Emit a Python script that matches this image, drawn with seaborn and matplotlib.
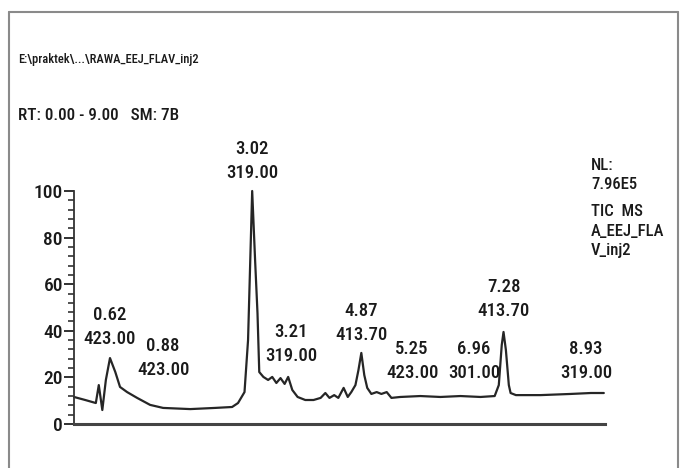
import numpy as np
import pandas as pd
import matplotlib.pyplot as plt
from matplotlib import font_manager
from matplotlib.ticker import MultipleLocator
import seaborn as sns

## chromatogram trace (retention time in min, relative abundance)
rt = [0.00, 0.19, 0.37, 0.42, 0.48, 0.54, 0.61, 0.70, 0.78, 0.90, 1.07, 1.29, 1.51,
      1.97, 2.39, 2.68, 2.78, 2.89, 2.95, 3.02, 3.07, 3.11, 3.14, 3.21, 3.29, 3.36,
      3.43, 3.50, 3.57, 3.63, 3.70, 3.79, 3.92, 4.06, 4.18, 4.26, 4.33, 4.41, 4.48,
      4.57, 4.64, 4.70, 4.77, 4.82, 4.87, 4.92, 4.97, 5.04, 5.13, 5.21, 5.30, 5.38,
      5.53, 5.87, 6.21, 6.55, 6.89, 7.13, 7.20, 7.25, 7.28, 7.32, 7.37, 7.40, 7.49,
      7.91, 8.42, 8.76, 8.98]
abundance = [11.6, 10.3, 9.0, 16.7, 6.0, 18.9, 28.3, 22.3, 15.9, 13.7, 11.2, 8.2, 6.9,
             6.4, 6.9, 7.3, 9.0, 13.7, 36.0, 100.0, 70.0, 47.6, 22.3, 20.2, 18.9, 20.2,
             17.6, 19.7, 17.2, 20.2, 14.6, 11.6, 10.3, 10.3, 11.2, 13.3, 11.2, 12.4, 11.2,
             15.5, 11.6, 13.7, 16.7, 23.0, 30.5, 21.0, 15.5, 12.9, 13.7, 12.9, 13.7, 11.2,
             11.6, 12.0, 11.6, 12.0, 11.6, 12.0, 16.7, 33.9, 39.5, 31.8, 16.7, 13.3, 12.4,
             12.4, 12.9, 13.3, 13.3]

## peak labels: retention time / base peak m/z
peak_rt = ['3.02', '0.62', '0.88', '3.21', '4.87', '5.25', '6.96', '7.28', '8.93']
peak_mz = ['319.00', '423.00', '423.00', '319.00', '413.70', '423.00', '301.00', '413.70', '319.00']
# where the labels sit (x in min, y in % of axis)
lab_x = [3.02, 0.61, 1.51, 3.68, 4.87, 5.73, 6.78, 7.28, 8.68]
lab_y = [113, 41.6, 28.3, 34.3, 43.3, 27, 27, 53.6, 27]

df = pd.DataFrame({'rt': rt, 'abundance': abundance})

## look for a narrow sans face, the scan uses a condensed font
fams = {}
for f in font_manager.fontManager.ttflist:
    fams.setdefault(f.name, set()).add(str(f.stretch))
narrow = None
for name in ['Liberation Sans Narrow', 'Arial Narrow', 'DejaVu Sans Condensed',
             'Roboto Condensed', 'Open Sans Condensed', 'Noto Sans Condensed']:
    if name in fams:
        narrow = (name, 'normal')
        break
if narrow is None:
    for name, st in fams.items():
        if 'Sans' in name and ({'condensed', 'semi-condensed', '75', '87'} & st):
            narrow = (name, 'condensed')
            break

sns.set_style('white')
if narrow:
    plt.rcParams['font.family'] = [narrow[0], 'Liberation Sans', 'DejaVu Sans']
    plt.rcParams['font.stretch'] = narrow[1]
    scale = 1.0
else:
    plt.rcParams['font.family'] = ['Liberation Sans', 'DejaVu Sans']
    scale = 0.85
plt.rcParams['font.weight'] = 'medium'

fig = plt.figure(figsize=(6.81, 4.68), dpi=100)
ax = fig.add_axes([74 / 681, 44 / 468, 531 / 681, 233 / 468])

sns.lineplot(data=df, x='rt', y='abundance', ax=ax, color='#262626', linewidth=1.6,
             clip_on=False)

ax.set_xlim(0, 9)
ax.set_ylim(0, 100)
ax.set_xlabel('')
ax.set_ylabel('')
ax.set_xticks([])
ax.yaxis.set_major_locator(MultipleLocator(20))
ax.yaxis.set_minor_locator(MultipleLocator(4))
ax.tick_params(axis='y', which='major', direction='out', length=7, width=1.3,
               color='#222222', labelsize=14 * scale, pad=1, left=True)
ax.tick_params(axis='y', which='minor', direction='out', length=4, width=1.1,
               color='#222222', left=True)
for lab in ax.get_yticklabels():
    lab.set_color('#1a1a1a')

for s in ['top', 'right']:
    ax.spines[s].set_visible(False)
ax.spines['left'].set_color('#333333')
ax.spines['left'].set_linewidth(1.3)
ax.spines['bottom'].set_color('#444444')
ax.spines['bottom'].set_linewidth(2.2)

for t, m, x, y in zip(peak_rt, peak_mz, lab_x, lab_y):
    ax.text(x, y, f'{t}\n{m}', ha='center', va='center', fontsize=13.5 * scale,
            color='#1a1a1a', linespacing=1.45, clip_on=False)

## header and side texts
fig.text(18 / 681, 1 - 60 / 468, 'E:\\praktek\\...\\RAWA_EEJ_FLAV_inj2', fontsize=9 * scale,
         color='#1a1a1a', va='center', ha='left')
fig.text(18 / 681, 1 - 115 / 468, 'RT: 0.00 - 9.00   SM: 7B', fontsize=12.3 * scale,
         color='#1a1a1a', va='center', ha='left')
side = ['NL:', '7.96E5', 'TIC  MS', 'A_EEJ_FLA', 'V_inj2']
side_y = [165, 185, 212, 231, 250]
for s, y in zip(side, side_y):
    fig.text(591 / 681, 1 - y / 468, s, fontsize=12 * scale, color='#1a1a1a',
             va='center', ha='left')

## scanned page frame
frame = dict(color='#8a8a8a', linewidth=1.5)
fig.add_artist(plt.Line2D([9 / 681, 9 / 681], [0, 1 - 12 / 468], **frame))
fig.add_artist(plt.Line2D([9 / 681, 678 / 681], [1 - 12 / 468, 1 - 12 / 468], **frame))
fig.add_artist(plt.Line2D([678 / 681, 678 / 681], [0, 1 - 12 / 468], **frame))

fig.savefig('out.png', dpi=100)
